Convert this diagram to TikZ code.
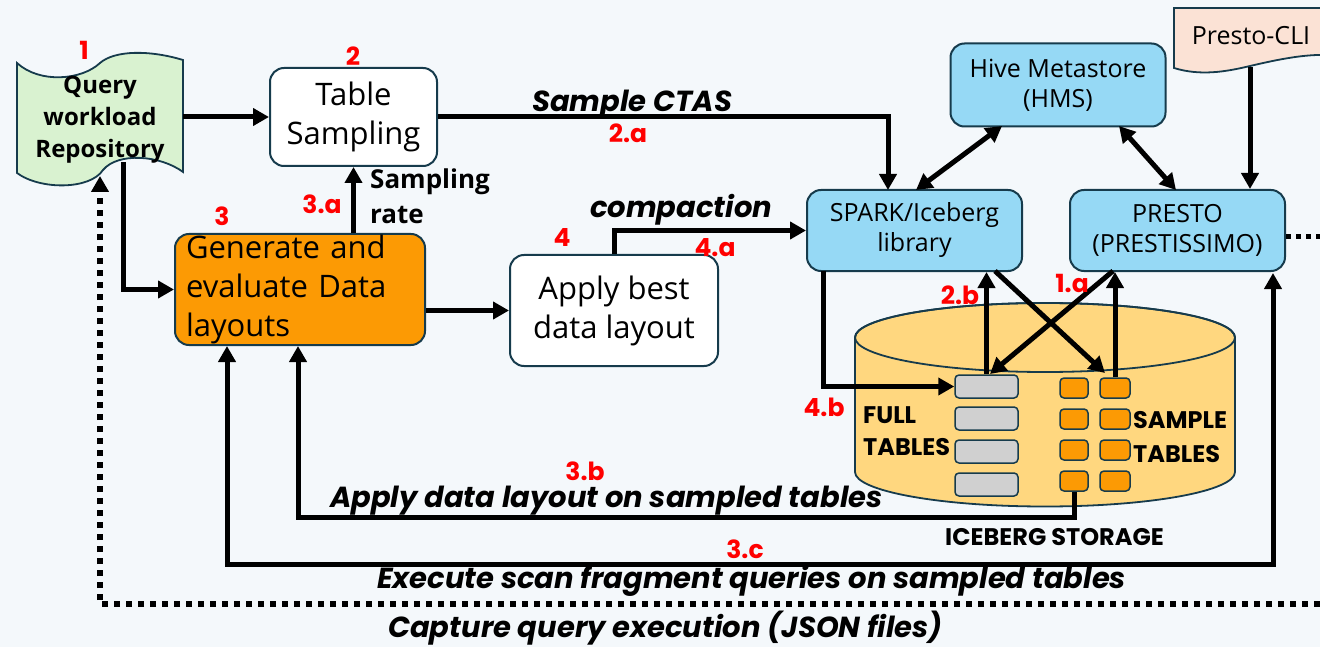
\documentclass[tikz,border=0pt]{standalone}
\usepackage{fontspec}
\setmainfont{Open Sans}
\newfontfamily\pop{Poppins}
\usetikzlibrary{arrows.meta}
\definecolor{bg}{HTML}{F4F8FB}
\definecolor{bd}{HTML}{163B4C}
\definecolor{qgreen}{HTML}{D9F2D0}
\definecolor{orng}{HTML}{FC9A04}
\definecolor{lblue}{HTML}{96D9F5}
\definecolor{peach}{HTML}{FBE2D5}
\definecolor{cyl}{HTML}{FFD77F}
\definecolor{lgray}{HTML}{D0D0D0}
\definecolor{lred}{HTML}{FF0000}
\begin{document}
\begin{tikzpicture}[x=1pt,y=-1pt,
  box/.style={draw=bd, line width=2pt, rounded corners=14pt, align=center, inner sep=0pt,
    font=\fontsize{31}{39}\selectfont},
  bluebox/.style={box, fill=lblue, font=\fontsize{25}{30}\selectfont},
  arr/.style={line width=5pt, -{Triangle[length=16pt,width=17pt]}},
  darr/.style={line width=5pt, {Triangle[length=16pt,width=17pt]}-{Triangle[length=16pt,width=17pt]}},
  dotarr/.style={line width=6pt, dash pattern=on 6pt off 6pt, -{Triangle[length=16pt,width=17pt]}},
  dotline/.style={line width=5pt, dash pattern=on 5pt off 5pt},
  redlbl/.style={text=lred, font=\pop\bfseries\fontsize{25}{25}\selectfont, inner sep=0pt},
  caption/.style={font=\pop\bfseries\itshape\fontsize{29}{29}\selectfont, anchor=base west, inner sep=0pt},
  blk/.style={font=\pop\bfseries\fontsize{24}{24}\selectfont, anchor=base west, inner sep=0pt},
  bolds/.style={font=\bfseries\fontsize{24}{32}\selectfont, inner sep=0pt},
  grect/.style={draw=bd, line width=1.5pt, fill=lgray, rounded corners=4pt, minimum width=63pt, minimum height=23pt, inner sep=0pt},
  osq/.style={draw=bd, line width=1.5pt, fill=orng, rounded corners=4pt, minimum height=20pt, inner sep=0pt},
  docshape/.style={draw=bd, line width=1.8pt}
]
\fill[bg] (0,0) rectangle (1320,647);
\useasboundingbox (0,0) rectangle (1320,647);
\clip (0,0) rectangle (1320,647);

% Query workload repository (punched tape)
\draw[docshape, fill=qgreen] (17,63) .. controls (40,84) and (82,80) .. (100,63)
  .. controls (115,50) and (150,50) .. (183,60) -- (183,172)
  .. controls (160,155) and (118,152) .. (103,170)
  .. controls (90,190) and (40,190) .. (17,173) -- cycle;
\node[bolds, align=center, minimum width=166pt, minimum height=110pt] (qwr) at (100,120) {Query\\workload\\Repository};

% Presto-CLI document
\draw[docshape, fill=peach] (1174,8) -- (1174,68) .. controls (1200,76) and (1225,72) .. (1250,66)
  .. controls (1280,59) and (1305,54) .. (1330,55) -- (1330,8) -- cycle;
\node[font=\fontsize{25}{30}\selectfont, inner sep=0pt] (cli) at (1251,36) {Presto-CLI};

% main boxes
\node[box, fill=white, minimum width=167pt, minimum height=98pt] (tbl) at (353.5,117) {Table\\Sampling};
\node[box, fill=orng, minimum width=250pt, minimum height=111pt, text width=228pt, align=left] (gen) at (300,289.5) {Generate and\\evaluate Data\\layouts};
\node[box, fill=white, minimum width=208pt, minimum height=111pt] (app) at (614,310.5) {Apply best\\data layout};
\node[bluebox, minimum width=215pt, minimum height=83pt] (hms) at (1058,85) {Hive Metastore\\(HMS)};
\node[bluebox, minimum width=215pt, minimum height=81pt] (spark) at (914.5,230.5) {SPARK/Iceberg\\library};
\node[bluebox, minimum width=215pt, minimum height=81pt] (presto) at (1177.5,230.5) {PRESTO\\(PRESTISSIMO)};

% cylinder
\draw[draw=bd, line width=1.8pt, fill=cyl] (855,337.5) -- (855,472)
  arc[start angle=180, end angle=360, x radius=190pt, y radius=34.5pt] -- (1235,337.5)
  arc[start angle=0, end angle=180, x radius=190pt, y radius=34.5pt] -- cycle;
\draw[draw=bd, line width=1.8pt] (1045,337.5) ellipse [x radius=190pt, y radius=34.5pt];

\node[grect] (g1) at (986.5,386.5) {};
\node[grect] (g2) at (986.5,418.5) {};
\node[grect] (g3) at (986.5,451.5) {};
\node[grect] (g4) at (986.5,484.5) {};
\node[osq, minimum width=28pt] (o11) at (1074,388) {};
\node[osq, minimum width=28pt] (o12) at (1074,419) {};
\node[osq, minimum width=28pt] (o13) at (1074,450) {};
\node[osq, minimum width=28pt] (o14) at (1074,481) {};
\node[osq, minimum width=30pt] (o21) at (1115,388) {};
\node[osq, minimum width=30pt] (o22) at (1115,419) {};
\node[osq, minimum width=30pt] (o23) at (1115,450) {};
\node[osq, minimum width=30pt] (o24) at (1115,481) {};

\node[blk] (ft1) at (863,423) {FULL};
\node[blk] (ft2) at (863,455) {TABLES};
\node[blk] (st1) at (1133,428) {SAMPLE};
\node[blk] (st2) at (1133,462) {TABLES};
\node[blk] (ics) at (945,545) {ICEBERG STORAGE};

% coordinates for connector ends
\coordinate (qb1) at (123,162);
\coordinate (qb2) at (100,176);
\coordinate (sIn) at (888,190);
\coordinate (sH) at (916,190);
\coordinate (hS) at (1002,126);
\coordinate (hP) at (1119,126);
\coordinate (pH) at (1176,190);
\coordinate (cliB) at (1250,67);
\coordinate (s4b) at (823,271);
\coordinate (sx) at (995,271);
\coordinate (sxE) at (1105,373);
\coordinate (px) at (1113,271);
\coordinate (pxE) at (990,374);
\coordinate (b3b) at (298,517);
\coordinate (b3c) at (227,564);
\coordinate (p3c) at (1273,273);
\coordinate (dotc) at (1320,604);
\coordinate (dotsE) at (1320,237);

% connectors
\draw[arr] (qwr.east |- tbl.west) -- (tbl.west);
\draw[arr] (qb1) |- (gen.west);
\draw[dotarr] (dotc) -| (qb2);
\draw[arr] (tbl.east) -| (sIn);
\draw[arr] (gen.north -| tbl.south) -- (tbl.south);
\draw[arr] (gen.east |- app.west) -- (app.west);
\draw[arr] (app.north) |- (spark.west);
\draw[darr] (sH) -- (hS);
\draw[darr] (hP) -- (pH);
\draw[arr] (cliB) -- (cliB |- presto.north);
\draw[dotline] (presto.east |- dotsE) -- (dotsE);
\draw[arr] (s4b) |- (g1.west);
\draw[arr] (g1.north) -- (g1.north |- spark.south);
\draw[arr] (sx) -- (sxE);
\draw[arr] (px) -- (pxE);
\draw[arr] (o21.north) -- (o21.north |- presto.south);
\draw[arr] (o14.south) |- (b3b) -- (b3b |- gen.south);
\draw[darr] (p3c) |- (b3c) -- (b3c |- gen.south);

% text labels
\node[font=\bfseries\fontsize{26}{26}\selectfont, anchor=base west, inner sep=0pt] (sr1) at (370,189) {Sampling};
\node[font=\bfseries\fontsize{26}{26}\selectfont, anchor=base west, inner sep=0pt] (sr2) at (370,224) {rate};
\node[caption] (cSample) at (532,112) {Sample CTAS};
\node[caption] (cComp) at (590,218) {compaction};
\node[caption] (cApply) at (330,507) {Apply data layout on sampled tables};
\node[caption] (cExec) at (377,588) {Execute scan fragment queries on sampled tables};
\node[caption] (cCap) at (388,637) {Capture query execution (JSON files)};

% red step labels
\node[redlbl] (r1) at (84,50) {1};
\node[redlbl] (r2) at (353,56) {2};
\node[redlbl] (r3) at (222,216) {3};
\node[redlbl] (r3a) at (322,204) {3.a};
\node[redlbl] (r4) at (562,238) {4};
\node[redlbl] (r4a) at (715,248) {4.a};
\node[redlbl] (r2a) at (628,133) {2.a};
\node[redlbl] (r2b) at (960,295) {2.b};
\node[redlbl] (r1a) at (1072,283) {1.a};
\node[redlbl] (r4b) at (824,407) {4.b};
\node[redlbl] (r3b) at (585,471) {3.b};
\node[redlbl] (r3c) at (745,549) {3.c};
\end{tikzpicture}
\end{document}
